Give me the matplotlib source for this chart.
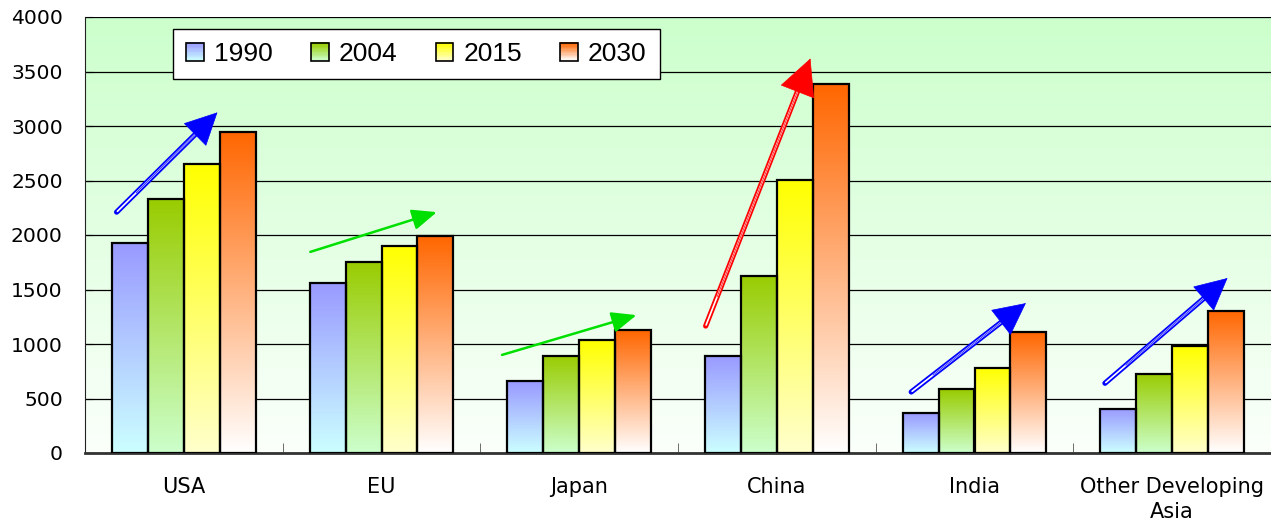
import numpy as np
import matplotlib
matplotlib.use("Agg")
import matplotlib.pyplot as plt
from matplotlib.colors import LinearSegmentedColormap
from matplotlib.patches import Patch, Rectangle
from matplotlib.legend_handler import HandlerBase

# Data
regions = ["USA", "EU", "Japan", "China", "India", "Other Developing\nAsia"]
years = ["1990", "2004", "2015", "2030"]
v1990 = [1930, 1560, 660, 890, 365, 405]
v2004 = [2330, 1755, 890, 1625, 585, 725]
v2015 = [2650, 1900, 1035, 2505, 780, 980]
v2030 = [2945, 1990, 1125, 3385, 1110, 1305]
series = [v1990, v2004, v2015, v2030]

# gradient colours (bottom, top) for each year
grad_colors = [
    ("#ccffff", "#9999ff"),
    ("#ccffcc", "#99cc00"),
    ("#ffffcc", "#ffff00"),
    ("#ffffff", "#ff6600"),
]

# trend arrows: start, end (data coordinates), colour, double shaft, head size (pt)
arrows = [
    ((-0.34, 2210), (0.17, 3125), "#0000ff", True, 22),
    ((0.64, 1845), (1.28, 2210), "#00e000", False, 15),
    ((1.61, 900), (2.29, 1265), "#00e000", False, 15),
    ((2.64, 1165), (3.17, 3620), "#ff0000", True, 25),
    ((3.68, 560), (4.26, 1375), "#0000ff", True, 22),
    ((4.66, 640), (5.28, 1605), "#0000ff", True, 22),
]

fig = plt.figure(figsize=(12.71, 5.26), dpi=100)
ax = fig.add_axes([85 / 1271, 1 - 453 / 526, 1 - 85 / 1271, (453 - 17) / 526])

# plot-area background: pale green fading to white
bg = LinearSegmentedColormap.from_list("bg", ["#fbfffb", "#ccffcc"])
ax.imshow(np.linspace(0, 1, 256).reshape(-1, 1), cmap=bg, origin="lower",
          extent=(0, 1, 0, 1), transform=ax.transAxes, aspect="auto", zorder=0)

x = np.arange(len(regions))
bw = 0.182
offsets = (np.arange(len(years)) - 1.5) * bw

grad = np.linspace(0, 1, 256).reshape(-1, 1)
for (vals, (cb, ct), off) in zip(series, grad_colors, offsets):
    cmap = LinearSegmentedColormap.from_list("g", [cb, ct])
    bars = ax.bar(x + off, vals, width=bw, facecolor="none", edgecolor="black",
                  linewidth=1.6, zorder=4)
    for b in bars:
        x0 = b.get_x()
        ax.imshow(grad, cmap=cmap, origin="lower", aspect="auto",
                  extent=(x0, x0 + b.get_width(), 0, b.get_height()), zorder=3)

# trend arrows
for (p0, p1, col, double, hs) in arrows:
    if double:
        ax.annotate("", xy=p1, xytext=p0, zorder=6,
                    arrowprops=dict(arrowstyle="-", lw=3.8, color=col,
                                    shrinkA=0, shrinkB=hs * 0.8))
        ax.annotate("", xy=p1, xytext=p0, zorder=7,
                    arrowprops=dict(arrowstyle="-", lw=1.2, color="white",
                                    shrinkA=0.8, shrinkB=hs * 0.8))
        ax.annotate("", xy=p1, xytext=p0, zorder=8,
                    arrowprops=dict(arrowstyle="-|>,head_length=1.0,head_width=0.5",
                                    mutation_scale=hs, lw=0.5, color=col,
                                    shrinkA=hs * 0.9, shrinkB=0))
    else:
        ax.annotate("", xy=p1, xytext=p0, zorder=6,
                    arrowprops=dict(arrowstyle="-|>,head_length=1.0,head_width=0.42",
                                    mutation_scale=hs, lw=1.8, color=col,
                                    shrinkA=0, shrinkB=0))

ax.set_xlim(-0.5, len(regions) - 0.5)
ax.set_ylim(0, 4000)
ax.set_yticks(np.arange(0, 4001, 500))
ax.yaxis.grid(True, color="black", linewidth=0.9)
for gl in ax.get_ygridlines():
    gl.set_zorder(1)
ax.tick_params(axis="y", direction="in", length=6, labelsize=14.6, pad=16,
               labelfontfamily="DejaVu Sans")

ax.set_xticks(x)
ax.set_xticklabels(regions, fontsize=15, fontfamily="DejaVu Sans", linespacing=1.35)
ax.tick_params(axis="x", which="major", length=0, pad=17)
ax.set_xticks(np.arange(0.5, len(regions) - 0.5, 1), minor=True)
ax.tick_params(axis="x", which="minor", direction="in", length=7, color="#555555")

for s in ["top", "right"]:
    ax.spines[s].set_visible(False)
ax.spines["left"].set_color("#222222")
ax.spines["bottom"].set_linewidth(2.0)
ax.spines["bottom"].set_color("#333333")


class GradientHandler(HandlerBase):
    def __init__(self, cb, ct, n=14):
        super().__init__()
        self.cmap = LinearSegmentedColormap.from_list("h", [cb, ct])
        self.n = n

    def create_artists(self, legend, orig_handle, xdescent, ydescent,
                       width, height, fontsize, trans):
        x0, y0 = -xdescent, -ydescent
        arts = []
        for i in range(self.n):
            arts.append(Rectangle((x0, y0 + i * height / self.n), width,
                                  height / self.n + 0.3,
                                  facecolor=self.cmap(i / (self.n - 1)),
                                  edgecolor="none", transform=trans))
        arts.append(Rectangle((x0, y0), width, height, fill=False,
                              edgecolor="black", lw=1.2, transform=trans))
        return arts


handles = [Patch(label=y) for y in years]
hmap = {h: GradientHandler(cb, ct) for h, (cb, ct) in zip(handles, grad_colors)}
leg = ax.legend(handles=handles, handler_map=hmap, ncol=4,
                loc="upper left", bbox_to_anchor=((173 - 85) / 1186, (453 - 29) / 436),
                borderaxespad=0,
                prop={"family": "Liberation Sans", "size": 19},
                handlelength=0.68, handleheight=0.68, handletextpad=0.38,
                columnspacing=1.44, borderpad=0.5, fancybox=False,
                edgecolor="black", framealpha=1.0)
leg.get_frame().set_linewidth(1.0)
leg.set_zorder(10)

fig.savefig("out.png", dpi=100)
